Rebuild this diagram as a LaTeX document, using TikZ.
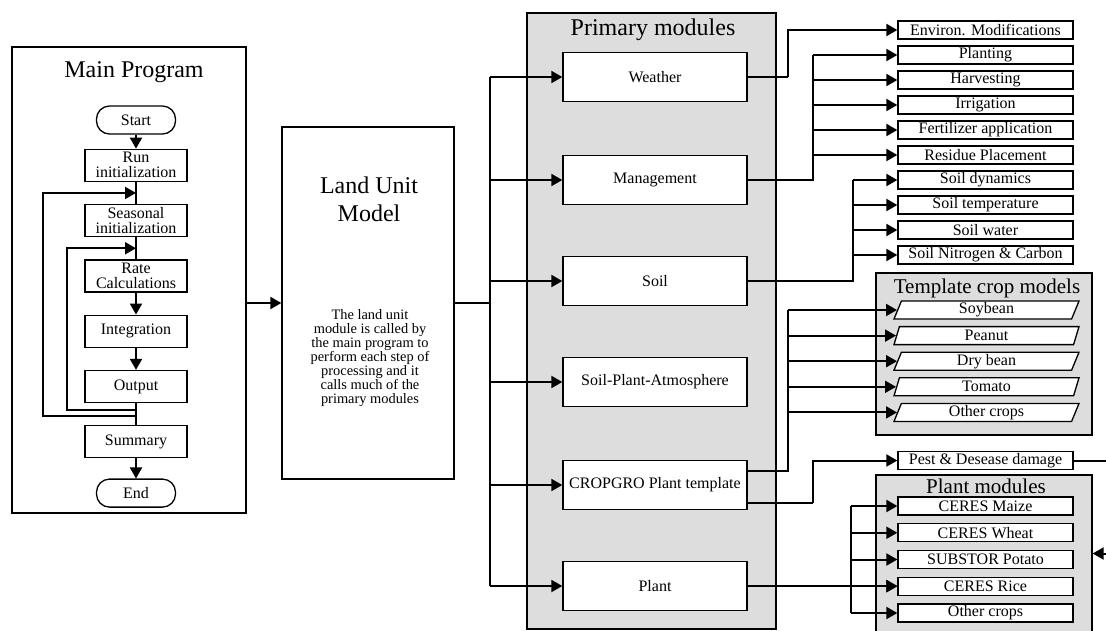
\documentclass[tikz,border=0pt]{standalone}
\usepackage{fontspec}
\setmainfont{Liberation Serif}
\usetikzlibrary{positioning,arrows.meta,shapes.geometric,calc}
\definecolor{panelgray}{RGB}{221,221,221}

\begin{document}
\begin{tikzpicture}[x=1pt, y=-1pt, node distance=22pt,
    box/.style={draw, fill=white, line width=1.3pt, inner sep=1pt, align=center},
    stepbox/.style={box, minimum width=102pt, minimum height=32pt, inner sep=0.5pt, font=\fontsize{16}{15}\selectfont},
    termbox/.style={box, rounded corners=13pt, minimum width=79pt, minimum height=28pt, font=\fontsize{16}{15}\selectfont},
    modbox/.style={box, minimum width=184pt, minimum height=49pt, font=\fontsize{16}{18}\selectfont},
    subbox/.style={box, minimum width=175pt, minimum height=18pt, inner sep=0pt, font=\fontsize{16}{18}\selectfont},
    cropbox/.style={subbox, trapezium, trapezium left angle=63, trapezium right angle=117, trapezium stretches body, minimum width=185pt},
    panel/.style={draw, fill=panelgray, line width=1.3pt},
    frame/.style={draw, line width=1.3pt},
    title/.style={font=\fontsize{24}{28}\selectfont, align=center},
    subtitle/.style={font=\fontsize{21}{24}\selectfont},
    conn/.style={line width=1.2pt},
    arr/.style={line width=2pt, -{Triangle[length=11pt, width=12pt]}}]
    \useasboundingbox (0,0) rectangle (1106,630);

    % containers
    \node[frame, minimum width=234pt, minimum height=466pt] (mainprog) at (129,280) {};
    \node[title] (maintitle) at (134,72) {Main Program};
    \node[frame, minimum width=172pt, minimum height=352pt] (land) at (368,303) {};
    \node[title] (landtitle) at (369,199) {Land Unit\\Model};
    \node[align=center, font=\fontsize{14.4}{14}\selectfont] (landtext) at (370,358)
        {The land unit\\module is called by\\the main program to\\perform each step of\\processing and it\\calls much of the\\primary modules};
    \node[panel, minimum width=249pt, minimum height=616pt] (prim) at (651.5,321) {};
    \node[title] (primtitle) at (653,30) {Primary modules};
    \node[panel, minimum width=216pt, minimum height=162pt] (tmods) at (984,354) {};
    \node[subtitle] (ttitle) at (987,288) {Template crop models};
    \node[panel, minimum width=216pt, minimum height=157pt] (pmods) at (984,553.5) {};
    \node[subtitle] (ptitle) at (986,486) {Plant modules};

    % main program
    \node[termbox] (start) at (136,120) {Start};
    \node[stepbox, below=14pt of start] (run) {Run\\initialization};
    \node[stepbox, below=of run] (seasonal) {Seasonal\\initialization};
    \node[stepbox, below=of seasonal] (rate) {Rate\\Calculations};
    \node[stepbox, below=of rate] (integ) {Integration};
    \node[stepbox, below=of integ] (output) {Output};
    \node[stepbox, below=of output] (summary) {Summary};
    \node[termbox, below=20pt of summary] (end) {End};
    \draw[arr] (start) -- (run);
    \draw[conn] (run) -- (seasonal);
    \draw[conn] (seasonal) -- (rate);
    \draw[arr] (rate) -- (integ);
    \draw[arr] (integ) -- (output);
    \draw[conn] (output) -- (summary);
    \draw[arr] (summary) -- (end);
    \coordinate (outerin) at ($(run.south)!0.5!(seasonal.north)$);
    \coordinate (innerin) at ($(seasonal.south)!0.5!(rate.north)$);
    \coordinate (innerout) at ($(output.south)!0.3!(summary.north)$);
    \coordinate (outerout) at ($(output.south)!0.6!(summary.north)$);
    \draw[arr] (innerout) -- ++(-69,0) |- (innerin);
    \draw[arr] (outerout) -- ++(-93,0) |- (outerin);
    \draw[arr] (mainprog.east |- land.west) -- (land.west);

    % primary modules
    \foreach \n/\t/\y in {weather/Weather/77, mgmt/Management/180, soil/Soil/281,
        spa/Soil-Plant-Atmosphere/382, cropgro/CROPGRO Plant template/485, plant/Plant/586}
        \node[modbox] (\n) at (655,\y) {\t};
    \coordinate (landbus) at (490,0);
    \draw[conn] (land.east) -- (landbus |- land.east);
    \draw[conn] (landbus |- weather.west) -- (landbus |- plant.west);
    \foreach \n in {weather,mgmt,soil,spa,cropgro,plant}
        \draw[arr] (landbus |- \n.west) -- (\n.west);

    % sub modules
    \foreach \n/\t/\y in {envmod/Environ. Modifications/30, planting/Planting/55,
        harvest/Harvesting/80, irrig/Irrigation/105, fert/Fertilizer application/130,
        residue/Residue Placement/155, soildyn/Soil dynamics/180, soiltemp/Soil temperature/205,
        soilwater/Soil water/230, soilnc/Soil Nitrogen \& Carbon/255}
        \node[subbox] (\n) at (985.5,\y) {\t};
    \coordinate (wbend) at (788,0);
    \draw[conn] (weather.east) -- (wbend |- weather.east);
    \draw[arr] (wbend |- weather.east) |- (envmod.west);
    \coordinate (mbus) at (813,0);
    \draw[conn] (mgmt.east) -- (mbus |- mgmt.east) -- (mbus |- planting.west);
    \foreach \n in {planting,harvest,irrig,fert,residue}
        \draw[arr] (mbus |- \n.west) -- (\n.west);
    \coordinate (sbus) at (853,0);
    \draw[conn] (soil.east) -- (sbus |- soil.east) -- (sbus |- soildyn.west);
    \foreach \n in {soildyn,soiltemp,soilwater,soilnc}
        \draw[arr] (sbus |- \n.west) -- (\n.west);

    % template crops
    \foreach \n/\t/\y in {soybean/Soybean/310, peanut/Peanut/335.6, drybean/Dry bean/361.2,
        tomato/Tomato/386.8, othcrop/Other crops/412.4}
        \node[cropbox] (\n) at (986.5,\y) {\t};
    \coordinate (cropup) at ([yshift=14pt]cropgro.east);
    \coordinate (cropdown) at ([yshift=-18pt]cropgro.east);
    \coordinate (tbus) at (788,0);
    \draw[conn] (cropup) -- (tbus |- cropup) -- (tbus |- soybean.west);
    \foreach \n in {soybean,peanut,drybean,tomato,othcrop}
        \draw[arr] (tbus |- \n.west) -- (\n.west);

    % pest and plant modules
    \node[subbox] (pest) at (985.5,460.5) {Pest \& Desease damage};
    \coordinate (pbend) at (813,0);
    \draw[conn] (cropdown) -- (pbend |- cropdown);
    \draw[arr] (pbend |- cropdown) |- (pest.west);
    \draw[arr] (pest.east) -- ++(45,0) |- (pmods.east);
    \foreach \n/\t/\y in {maize/CERES Maize/506, wheat/CERES Wheat/532.75,
        potato/SUBSTOR Potato/559.5, rice/CERES Rice/586.25, othplant/Other crops/613}
        \node[subbox] (\n) at (985.5,\y) {\t};
    \coordinate (plbus) at (851,0);
    \draw[conn] (plbus |- maize.west) -- (plbus |- othplant.west);
    \foreach \n in {maize,wheat,potato,rice,othplant}
        \draw[arr] (plbus |- \n.west) -- (\n.west);
    \draw[arr] (plant.east) -- (plant.east -| rice.west);
\end{tikzpicture}
\end{document}
